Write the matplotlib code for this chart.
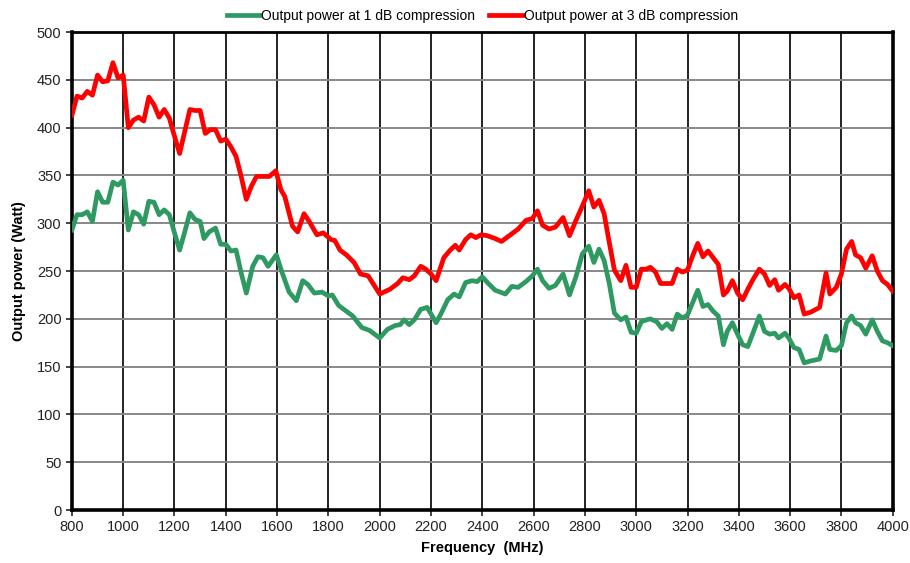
"""Output power vs frequency at 1 dB and 3 dB compression."""

import matplotlib

matplotlib.use("Agg")

import matplotlib.pyplot as plt

plt.rcParams["font.family"] = ["Liberation Sans", "DejaVu Sans"]

# Output power at 1 dB compression (green).
FREQ_1DB = [
    800, 820, 840, 860, 880, 900, 920, 940, 960, 980, 1000, 1020, 1040, 1060,
    1080, 1100, 1120, 1140, 1160, 1180, 1200, 1220, 1240, 1260, 1280, 1300,
    1315, 1335, 1360, 1380, 1400, 1420, 1440, 1460, 1480, 1505, 1525, 1545,
    1565, 1597, 1620, 1647, 1675, 1700, 1720, 1745, 1775, 1800, 1815, 1840,
    1865, 1895, 1930, 1960, 2000, 2030, 2060, 2080, 2095, 2115, 2135, 2160,
    2185, 2220, 2240, 2265, 2290, 2310, 2335, 2360, 2380, 2400, 2420, 2450,
    2490, 2515, 2540, 2570, 2595, 2615, 2635, 2660, 2685, 2715, 2740, 2765,
    2790, 2815, 2835, 2855, 2875, 2895, 2915, 2940, 2960, 2980, 3000, 3020,
    3040, 3055, 3080, 3100, 3120, 3140, 3160, 3180, 3200, 3220, 3240, 3260,
    3280, 3300, 3320, 3340, 3355, 3375, 3395, 3415, 3435, 3455, 3480, 3500,
    3520, 3540, 3555, 3580, 3595, 3615, 3635, 3655, 3680, 3715, 3740, 3755,
    3780, 3800, 3820, 3840, 3855, 3875, 3895, 3920, 3940, 3960, 3980, 4000,
]
POWER_1DB = [
    293, 309, 309, 312, 302, 333, 322, 322, 343, 340, 345, 293, 312, 309,
    299, 323, 322, 309, 314, 309, 290, 272, 291, 311, 304, 302,
    284, 291, 295, 278, 278, 271, 272, 248, 227, 255, 265, 264,
    255, 267, 248, 228, 219, 240, 236, 227, 228, 224, 225, 214,
    209, 203, 191, 188, 180, 189, 193, 194, 199, 194, 199, 210,
    212, 196, 206, 220, 226, 223, 238, 240, 239, 244, 238, 230,
    226, 234, 233, 239, 245, 252, 240, 232, 235, 247, 225, 244,
    268, 276, 259, 273, 261, 237, 206, 199, 202, 186, 185, 197,
    199, 200, 197, 190, 195, 189, 205, 201, 204, 217, 230, 213,
    215, 208, 203, 173, 187, 196, 184, 173, 171, 185, 203, 187,
    184, 185, 180, 185, 180, 170, 168, 154, 156, 158, 182, 168,
    167, 172, 196, 203, 196, 193, 184, 199, 187, 177, 175, 172,
]

# Output power at 3 dB compression (red).
FREQ_3DB = [
    800, 820, 840, 860, 880, 900, 920, 940, 960, 980, 1000, 1020, 1040, 1060,
    1080, 1100, 1120, 1140, 1160, 1180, 1200, 1220, 1240, 1260, 1280, 1300,
    1320, 1340, 1360, 1380, 1400, 1420, 1440, 1460, 1480, 1500, 1520, 1540,
    1570, 1595, 1615, 1630, 1660, 1680, 1705, 1725, 1755, 1780, 1810, 1825,
    1845, 1870, 1900, 1925, 1955, 2000, 2040, 2070, 2090, 2115, 2135, 2160,
    2180, 2200, 2220, 2250, 2275, 2295, 2310, 2335, 2355, 2375, 2395, 2420,
    2450, 2475, 2505, 2540, 2570, 2595, 2615, 2635, 2660, 2685, 2715, 2740,
    2765, 2790, 2815, 2835, 2855, 2875, 2895, 2915, 2940, 2960, 2980, 3000,
    3020, 3040, 3055, 3075, 3095, 3120, 3140, 3160, 3180, 3200, 3220, 3240,
    3260, 3280, 3300, 3320, 3340, 3355, 3375, 3395, 3415, 3435, 3455, 3480,
    3500, 3520, 3540, 3555, 3580, 3595, 3615, 3635, 3655, 3680, 3715, 3740,
    3755, 3780, 3800, 3820, 3840, 3855, 3875, 3895, 3920, 3940, 3960, 3980,
    4000,
]
POWER_3DB = [
    413, 433, 431, 438, 434, 455, 448, 449, 468, 452, 455, 400, 408, 411,
    407, 432, 424, 411, 419, 410, 391, 373, 396, 419, 418, 418,
    394, 398, 398, 386, 388, 380, 370, 349, 325, 339, 349, 349,
    349, 355, 335, 328, 297, 291, 310, 302, 288, 290, 283, 282,
    272, 267, 259, 247, 245, 226, 231, 237, 243, 241, 245, 255,
    252, 247, 240, 264, 272, 277, 272, 283, 288, 285, 288, 287,
    284, 281, 287, 294, 303, 305, 313, 298, 294, 296, 306, 287,
    303, 318, 334, 317, 324, 310, 280, 251, 240, 256, 233, 233,
    252, 252, 254, 249, 237, 237, 237, 252, 249, 251, 266, 279,
    265, 271, 264, 257, 225, 229, 240, 227, 220, 231, 241, 252,
    247, 235, 241, 230, 236, 232, 222, 225, 205, 207, 212, 248,
    226, 233, 247, 273, 281, 267, 264, 253, 266, 250, 240, 236,
    229,
]

X_TICKS = list(range(800, 4001, 200))
Y_TICKS = list(range(0, 501, 50))


def main() -> None:
    fig = plt.figure(figsize=(9.1, 5.63), dpi=100)
    ax = fig.add_axes([0.079, 0.094, 0.902, 0.849])

    ax.plot(FREQ_1DB, POWER_1DB, color="#2e9a62", lw=3.4,
            solid_joinstyle="round", label="Output power at 1 dB compression", zorder=3)
    ax.plot(FREQ_3DB, POWER_3DB, color="#ff0000", lw=3.4,
            solid_joinstyle="round", label="Output power at 3 dB compression", zorder=3)

    ax.set_xlim(800, 4000)
    ax.set_ylim(0, 500)
    ax.set_xticks(X_TICKS)
    ax.set_yticks(Y_TICKS)
    ax.tick_params(labelsize=10.5, colors="#222222", length=4, width=1.2)

    ax.xaxis.grid(True, color="#222222", lw=1.4)
    ax.yaxis.grid(True, color="#888888", lw=1.4)
    ax.set_axisbelow(True)

    for side in ("left", "bottom", "right"):
        ax.spines[side].set_linewidth(2.6)
    ax.spines["top"].set_linewidth(2.0)

    ax.set_xlabel("Frequency  (MHz)", fontsize=10.5, fontweight="bold", labelpad=5)
    ax.set_ylabel("Output power (Watt)", fontsize=10.5, fontweight="bold", labelpad=8)

    ax.legend(loc="lower center", bbox_to_anchor=(0.5, 1.005), ncol=2,
              frameon=False, fontsize=10, handlelength=2.4, handletextpad=0.1,
              columnspacing=1.0, borderaxespad=0.1)

    fig.savefig("out.png", dpi=100)
    plt.close(fig)


if __name__ == "__main__":
    main()
